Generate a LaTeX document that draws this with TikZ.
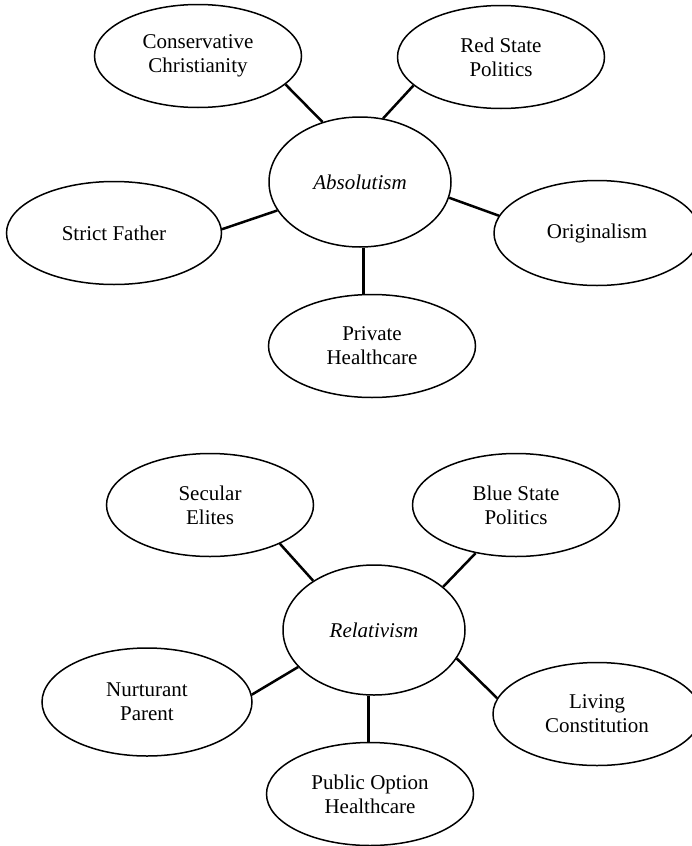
\documentclass[tikz,border=0pt]{standalone}
\usepackage{fontspec}
\setmainfont{Liberation Serif}
\usetikzlibrary{shapes.geometric}

\begin{document}
\begin{tikzpicture}[x=1pt, y=-1pt,
    idea/.style={ellipse, draw, line width=1.5pt, inner sep=0pt,
        minimum width=207pt, minimum height=103pt, align=center,
        font=\fontsize{21}{24}\selectfont},
    hub/.style={idea, minimum width=182pt, minimum height=130pt,
        font=\fontsize{21}{24}\selectfont\itshape},
    link/.style={line width=2.5pt}]
    \useasboundingbox (0,0) rectangle (692,846);
    % Upper map
    \node[hub] (abs) at (360,182) {Absolutism};
    \node[idea] (cc) at (198,56) {Conservative\\Christianity};
    \node[idea] (rsp) at (501,57) {Red State\\Politics};
    \node[idea, minimum width=215pt] (sf) at (114,233) {Strict Father};
    \node[idea, minimum width=206pt, minimum height=105pt] (orig) at (597,233) {Originalism};
    \node[idea] (ph) at (372,346) {Private\\Healthcare};
    \draw[link] (cc.-18) -- (abs.122);
    \draw[link] (rsp.-162) -- (abs.70);
    \draw[link] (abs.-161) -- (sf.2);
    \draw[link] (abs.-10) -- (orig.170);
    \draw[link] (abs.-87) -- (abs.-87 |- ph.north);
    % Lower map
    \node[hub] (rel) at (374,630) {Relativism};
    \node[idea] (se) at (210,505) {Secular\\Elites};
    \node[idea] (bsp) at (516,505) {Blue State\\Politics};
    \node[idea, minimum width=210pt, minimum height=108pt] (np) at (147,702) {Nurturant\\Parent};
    \node[idea, minimum width=208pt] (lc) at (597,714) {Living\\Constitution};
    \node[idea] (poh) at (370,794) {Public Option\\Healthcare};
    \draw[link] (se.-29) -- (rel.141);
    \draw[link] (bsp.-130) -- (rel.32);
    \draw[link] (rel.-154) -- (np.4);
    \draw[link] (rel.-19) -- (lc.171);
    \draw[link] (rel.-95) -- (rel.-95 |- poh.north);
\end{tikzpicture}
\end{document}
